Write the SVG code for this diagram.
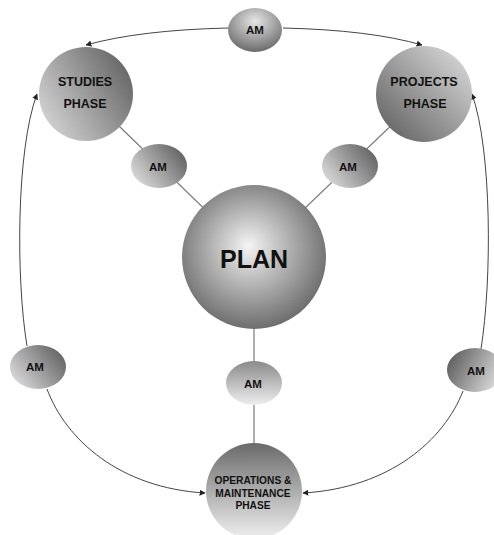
<svg xmlns="http://www.w3.org/2000/svg" width="494" height="535" viewBox="0 0 494 535">
<style>
.t{font-family:"Liberation Sans",Arial,sans-serif;font-weight:bold;fill:#111;text-anchor:middle}
.am{font-size:11.5px}
.ph{font-size:12.5px}
.om{font-size:10.2px}
.ln{stroke:#7a7a7a;stroke-width:1.2;fill:none}
.cv{stroke:#444;stroke-width:1;fill:none;marker-end:url(#ah)}
</style>
<defs>
<marker id="ah" viewBox="0 0 10 10" refX="9" refY="5" markerWidth="6" markerHeight="6" orient="auto" markerUnits="userSpaceOnUse">
<path d="M0,0 L10,5 L0,10 z" fill="#222"/>
</marker>
<radialGradient id="gPlan" cx="0.48" cy="0.45" r="0.55" fx="0.46" fy="0.42">
<stop offset="0" stop-color="#f4f4f4"/>
<stop offset="0.55" stop-color="#aaaaaa"/>
<stop offset="1" stop-color="#6e6e6e"/>
</radialGradient>
<linearGradient id="gStud" x1="0" y1="0.8" x2="1" y2="0.2">
<stop offset="0" stop-color="#d6d6d6"/>
<stop offset="1" stop-color="#626262"/>
</linearGradient>
<linearGradient id="gProj" x1="0.1" y1="0.9" x2="0.9" y2="0.1">
<stop offset="0" stop-color="#666"/>
<stop offset="1" stop-color="#d4d4d4"/>
</linearGradient>
<linearGradient id="gOM" x1="0" y1="0" x2="0" y2="1">
<stop offset="0" stop-color="#6a6a6a"/>
<stop offset="1" stop-color="#f0f0f0"/>
</linearGradient>
<radialGradient id="gAMtop" cx="0.5" cy="0.3" r="0.7">
<stop offset="0" stop-color="#e6e6e6"/>
<stop offset="1" stop-color="#6a6a6a"/>
</radialGradient>
<linearGradient id="gAMl" x1="0" y1="0.8" x2="1" y2="0.2">
<stop offset="0" stop-color="#dedede"/>
<stop offset="1" stop-color="#5e5e5e"/>
</linearGradient>
<linearGradient id="gAMr" x1="0" y1="0.3" x2="1" y2="0.7">
<stop offset="0" stop-color="#5e5e5e"/>
<stop offset="1" stop-color="#e0e0e0"/>
</linearGradient>
<linearGradient id="gAMmid" x1="0" y1="0" x2="0" y2="1">
<stop offset="0" stop-color="#8a8a8a"/>
<stop offset="1" stop-color="#eeeeee"/>
</linearGradient>
</defs>

<g id="connectors">
<line class="ln" x1="86" y1="94" x2="254" y2="257"/>
<line class="ln" x1="424" y1="94" x2="254" y2="257"/>
<line class="ln" x1="254" y1="257" x2="254" y2="460"/>
<path class="cv" d="M228 28 Q140 30 86 45"/>
<path class="cv" d="M283 28 Q370 30 422 45"/>
<path class="cv" d="M27 346 C16 280 16 150 37 94"/>
<path class="cv" d="M481 349 C492 280 492 150 472 94"/>
<path class="cv" d="M47 389 C66 440 120 488 205 493"/>
<path class="cv" d="M463 391 C444 440 390 488 303 493"/>
</g>

<g id="plan">
<circle cx="254" cy="257" r="72" fill="url(#gPlan)"/>
<text class="t" x="254" y="268" font-size="25">PLAN</text>
</g>
<g id="studies">
<circle cx="86" cy="94" r="47" fill="url(#gStud)"/>
<text class="t ph" x="85" y="86">STUDIES</text>
<text class="t ph" x="85" y="108">PHASE</text>
</g>
<g id="projects">
<circle cx="424" cy="94" r="48" fill="url(#gProj)"/>
<text class="t ph" x="424" y="86">PROJECTS</text>
<text class="t ph" x="425" y="108">PHASE</text>
</g>
<g id="om">
<circle cx="254" cy="491" r="48" fill="url(#gOM)"/>
<text class="t om" x="253" y="484">OPERATIONS &amp;</text>
<text class="t om" x="253" y="497">MAINTENANCE</text>
<text class="t om" x="253" y="509">PHASE</text>
</g>
<g id="am-top">
<ellipse cx="255" cy="30" rx="27" ry="22" fill="url(#gAMtop)"/>
<text class="t am" x="255" y="34">AM</text>
</g>
<g id="am-studies">
<ellipse cx="159" cy="166" rx="28" ry="22" fill="url(#gAMl)"/>
<text class="t am" x="158" y="171">AM</text>
</g>
<g id="am-projects">
<ellipse cx="350" cy="166" rx="28" ry="22" fill="url(#gAMl)"/>
<text class="t am" x="348" y="171">AM</text>
</g>
<g id="am-left">
<ellipse cx="38" cy="367" rx="28" ry="22" fill="url(#gAMl)"/>
<text class="t am" x="35" y="371">AM</text>
</g>
<g id="am-mid">
<ellipse cx="254" cy="383" rx="28" ry="22" fill="url(#gAMmid)"/>
<text class="t am" x="253" y="388">AM</text>
</g>
<g id="am-right">
<ellipse cx="475" cy="370" rx="28" ry="22" fill="url(#gAMr)"/>
<text class="t am" x="476" y="375">AM</text>
</g>
</svg>
